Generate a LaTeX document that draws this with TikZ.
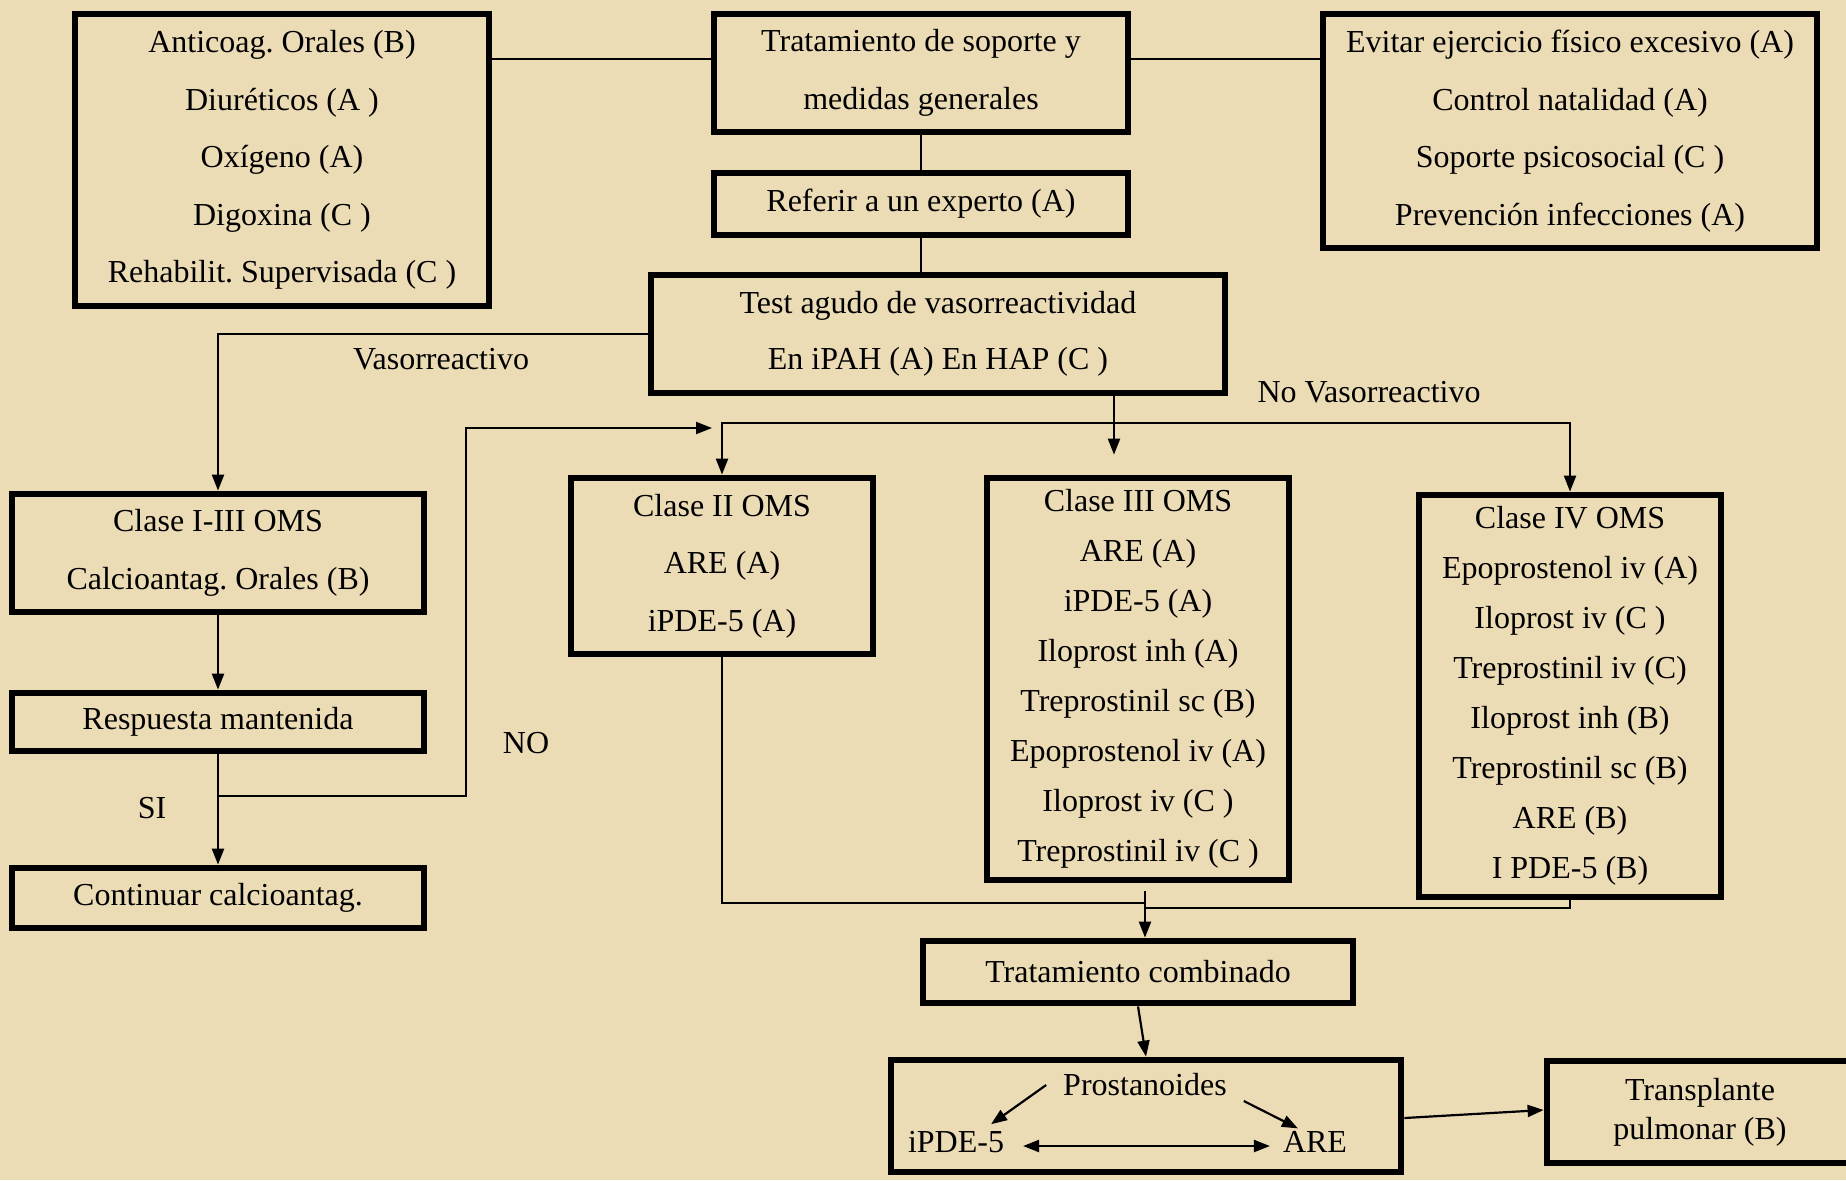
\documentclass[tikz,border=0pt]{standalone}
\usepackage{fontspec}
\setmainfont{Liberation Serif}
\usetikzlibrary{arrows.meta}
\definecolor{pergamino}{RGB}{236,220,182}
\frenchspacing

\begin{document}
\begin{tikzpicture}[x=0.5pt,y=-0.5pt,
  caja/.style={draw,line width=3.4pt,align=center,inner sep=0pt,font=\fontsize{16}{28.8}\selectfont},
  lista/.style={caja,font=\fontsize{16}{25}\selectfont},
  linea/.style={line width=1.1pt},
  flecha/.style={line width=1.1pt,-{Triangle[length=8pt,width=6pt]}},
  etiq/.style={font=\fontsize{16}{19}\selectfont}]

\fill[pergamino] (0,0) rectangle (1846,1180);
\useasboundingbox (0,0) rectangle (1846,1180);

\node[caja,minimum width=207pt,minimum height=146pt] (anticoag) at (282,160)
  {Anticoag. Orales (B)\\Diuréticos (A )\\Oxígeno (A)\\Digoxina (C )\\Rehabilit. Supervisada (C )};
\node[caja,minimum width=207pt,minimum height=59pt] (soporte) at (921,73)
  {Tratamiento de soporte y\\medidas generales};
\node[caja,minimum width=247pt,minimum height=117pt] (evitar) at (1570,131)
  {Evitar ejercicio físico excesivo (A)\\Control natalidad (A)\\Soporte psicosocial (C )\\Prevención infecciones (A)};
\node[caja,minimum width=207pt,minimum height=31pt] (referir) at (921,204) {Referir a un experto (A)};
\node[caja,font=\fontsize{16}{28}\selectfont,minimum width=287pt,minimum height=59pt] (test) at (938,334)
  {Test agudo de vasorreactividad\\En iPAH (A) En HAP (C )};

\node[caja,minimum width=206pt,minimum height=59pt] (clase13) at (218,553) {Clase I-III OMS\\Calcioantag. Orales (B)};
\node[caja,minimum width=206pt,minimum height=29pt] (respuesta) at (218,722) {Respuesta mantenida};
\node[caja,minimum width=206pt,minimum height=30pt] (continuar) at (218,898) {Continuar calcioantag.};

\node[caja,minimum width=151pt,minimum height=88pt] (clase2) at (722,566) {Clase II OMS\\ARE (A)\\iPDE-5 (A)};
\node[lista,minimum width=151pt,minimum height=201pt] (clase3) at (1138,679)
  {Clase III OMS\\ARE (A)\\iPDE-5 (A)\\Iloprost inh (A)\\Treprostinil sc (B)\\Epoprostenol iv (A)\\Iloprost iv (C )\\Treprostinil iv (C )};
\node[lista,minimum width=151pt,minimum height=201pt] (clase4) at (1570,696)
  {Clase IV OMS\\Epoprostenol iv (A)\\Iloprost iv (C )\\Treprostinil iv (C)\\Iloprost inh (B)\\Treprostinil sc (B)\\ARE (B)\\I PDE-5 (B)};

\node[caja,minimum width=215pt,minimum height=31pt] (combinado) at (1138,972) {Tratamiento combinado};
\node[caja,minimum width=255pt,minimum height=56pt] (terapia) at (1146,1116) {};
\node[caja,font=\fontsize{16}{19.5}\selectfont,minimum width=153pt,minimum height=51pt] (trasplante) at (1700,1112)
  {Transplante\\pulmonar (B)};

\node[etiq] (prost) at (1145,1085) {Prostanoides};
\node[etiq] (ipde) at (956,1142) {iPDE-5};
\node[etiq] (are) at (1315,1142) {ARE};

\node[etiq] at (441,359) {Vasorreactivo};
\node[etiq] at (1369,392) {No Vasorreactivo};
\node[etiq] at (526,743) {NO};
\node[etiq] at (152,808) {SI};

\coordinate (nudo) at (1114,423);
\coordinate (si) at (218,796);
\coordinate (vuelta) at (712,428);
\coordinate (union) at (1145,891);

\draw[linea] ([yshift=7pt]soporte.west) -- ([yshift=7pt]soporte.west -| anticoag.east);
\draw[linea] ([yshift=7pt]soporte.east) -- ([yshift=7pt]soporte.east -| evitar.west);
\draw[linea] (soporte.south) -- (referir.north);
\draw[linea] (referir.south) -- (referir.south |- test.north);
\draw[flecha] (test.west) -| (clase13.north);
\draw[linea] (test.south -| nudo) -- (nudo);
\draw[flecha,shorten >=10pt] (nudo) -- (nudo |- clase3.north);
\draw[flecha] (nudo) -| (clase2.north);
\draw[flecha] (nudo) -| (clase4.north);

\draw[flecha] (clase13.south) -- (respuesta.north);
\draw[flecha] (respuesta.south) -- (continuar.north);
\draw[flecha] (si) -| (466,428) -- (vuelta);

\draw[linea] (clase2.south) |- (1145,903);
\draw[linea] (clase4.south) |- (1145,908);
\draw[flecha] (union) -- (union |- combinado.north);
\draw[flecha] (combinado.south) -- (terapia.north);
\draw[flecha] ([yshift=-1pt]terapia.east) -- ([yshift=1pt]trasplante.west);

\draw[flecha] ([xshift=-5pt]prost.west) -- ([xshift=-10pt]ipde.north east);
\draw[flecha] ([xshift=5pt,yshift=-8pt]prost.east) -- ([xshift=11pt,yshift=-2pt]are.north west);
\draw[line width=1.1pt,{Triangle[length=8pt,width=6pt]}-{Triangle[length=8pt,width=6pt]}]
  ([xshift=6pt,yshift=-2pt]ipde.east) -- ([xshift=-3pt,yshift=-2pt]are.west);
\end{tikzpicture}
\end{document}
